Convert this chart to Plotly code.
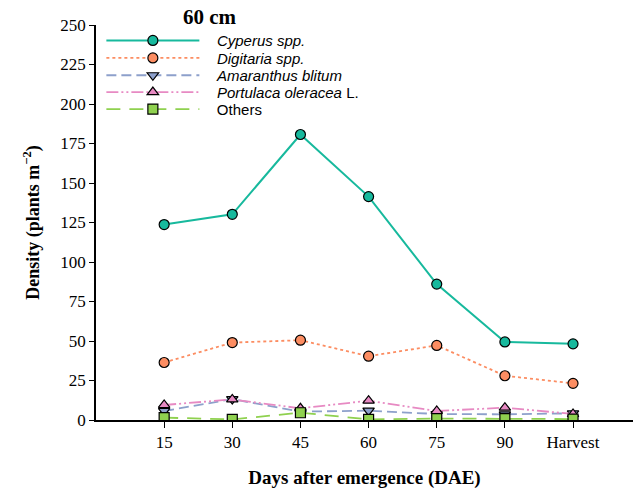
import plotly.graph_objects as go

categories = ["15", "30", "45", "60", "75", "90", "Harvest"]
cyperus = [123.7, 130.2, 180.7, 141.4, 86.0, 49.4, 48.2]
digitaria = [36.4, 49.0, 50.5, 40.4, 47.2, 28.0, 23.2]
amaranthus = [5.7, 13.2, 5.3, 5.9, 3.8, 3.6, 4.2]
portulaca = [9.5, 13.0, 7.4, 12.2, 5.7, 7.8, 3.8]
others = [1.5, 0.4, 4.6, 0.4, 0.9, 0.9, 0.6]
y_ticks = [0, 25, 50, 75, 100, 125, 150, 175, 200, 225, 250]

xpos = list(range(len(categories)))

series = [
    ("<i>Cyperus spp.</i>", cyperus, "#17b99d", "solid", "circle"),
    ("<i>Digitaria spp.</i>", digitaria, "#fc8d62", "dot", "circle"),
    ("<i>Amaranthus blitum</i>", amaranthus, "#8da0cb", "10px,5px", "triangle-down"),
    ("<i>Portulaca oleracea</i> L.", portulaca, "#e78ac3", "12px,3px,2px,3px,2px,3px", "triangle-up"),
    ("Others", others, "#8fd14f", "14px,9px", "square"),
]

# legend row centres (pixel rows of the page), converted to paper coords
plot_top, plot_bottom = 25, 420
legend_rows_px = [40.7, 58.2, 75.5, 92.3, 109.3]
pad = "\u00a0\u00a0\u00a0"

fig = go.Figure()
layout_legends = {}
for i, (name, vals, col, dash, sym) in enumerate(series):
    lname = "legend" if i == 0 else f"legend{i + 1}"
    fig.add_trace(go.Scatter(
        x=xpos, y=vals, name=pad + name, mode="lines+markers",
        line=dict(color=col, width=2 if dash == "solid" else 1.8, dash=dash),
        marker=dict(symbol=sym, size=10, color=col, line=dict(color="black", width=1.2)),
        legend=lname,
    ))
    ypaper = (plot_bottom - legend_rows_px[i]) / (plot_bottom - plot_top)
    layout_legends[lname] = dict(
        x=0.01, y=ypaper, xanchor="left", yanchor="middle",
        font=dict(family="Liberation Sans, Arial, sans-serif", size=15, color="black"),
        bgcolor="rgba(0,0,0,0)", itemwidth=93, borderwidth=0,
    )

serif = "Liberation Serif, Times New Roman, serif"
fig.update_layout(
    width=635, height=495,
    margin=dict(l=96, r=2, t=25, b=75),
    plot_bgcolor="white", paper_bgcolor="white",
    showlegend=True,
    xaxis=dict(range=[-1, 6.88], tickmode="array", tickvals=xpos, ticktext=categories,
               showgrid=False, zeroline=False, showline=True, linecolor="black", linewidth=1.5,
               ticks="outside", ticklen=6, tickcolor="black",
               tickfont=dict(family=serif, size=17, color="black"),
               title=dict(text="<b>Days after emergence (DAE)</b>", font=dict(family=serif, size=19, color="black"), standoff=20)),
    yaxis=dict(range=[0, 250], tickmode="array", tickvals=y_ticks,
               showgrid=False, zeroline=False, showline=True, linecolor="black", linewidth=1.5,
               ticks="outside", ticklen=5, tickcolor="black",
               tickfont=dict(family=serif, size=17, color="black"),
               title=dict(text="<b>Density (plants m<sup>\u22122</sup>)</b>", font=dict(family=serif, size=18, color="black"), standoff=16)),
    annotations=[dict(text="<b>60 cm</b>", x=0.213, y=1.0, xref="paper", yref="paper",
                      xanchor="center", yanchor="bottom", yshift=-6, showarrow=False,
                      font=dict(family=serif, size=21, color="black"))],
    **layout_legends,
)

fig.write_html("out.html")
